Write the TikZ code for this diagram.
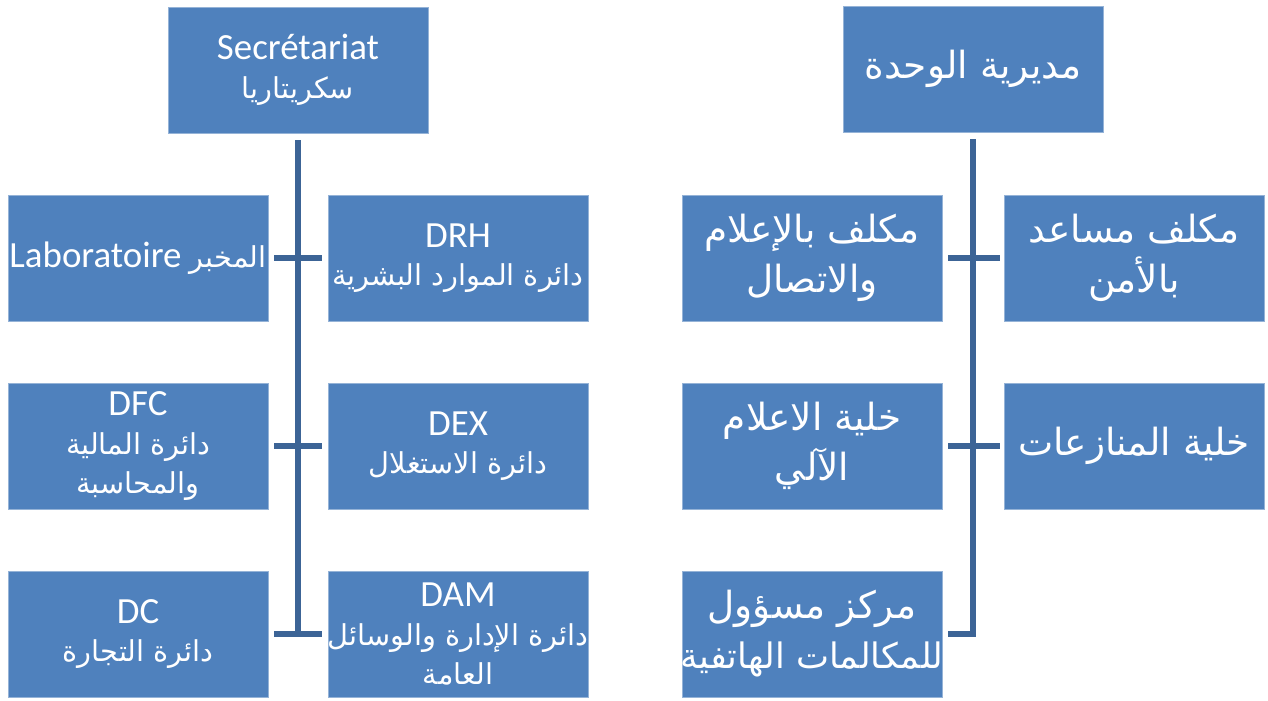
\documentclass[tikz,border=0pt]{standalone}
\usepackage{fontspec}
\setmainfont{Carlito}
\newfontfamily\arabicfont[Script=Arabic,Scale=0.78]{DejaVu Sans}
\TeXXeTstate=1
\newcommand{\artxt}[1]{{\arabicfont\beginR #1\endR}}
\definecolor{boxblue}{HTML}{4F81BD}
\definecolor{lineblue}{HTML}{3C6496}

\begin{document}
\begin{tikzpicture}[x=0.02cm,y=-0.02cm,
  unit/.style={fill=boxblue,draw=boxblue!60!white,line width=0.4pt,minimum width=5.2cm,minimum height=2.52cm,text=white,align=center,inner sep=0pt},
  small/.style={font=\fontsize{21}{22}\selectfont},
  big/.style={font=\fontsize{27.3}{28.5}\selectfont},
  trunk/.style={draw=lineblue,line width=0.12cm},
  tick/.style={trunk,shorten <=0.12cm,shorten >=0.12cm}]
\useasboundingbox (0,0) rectangle (1268,700);
% left chart
\node[unit,small] (sec) at (298,70) {Secrétariat\\\artxt{سكريتاريا}};
\node[unit,small] (lab) at (138,258) {Laboratoire \artxt{المخبر}};
\node[unit,small] (drh) at (458,258) {DRH\\\artxt{دائرة الموارد البشرية}};
\node[unit,small] (dfc) at (138,446) {DFC\\\artxt{دائرة المالية}\\\artxt{والمحاسبة}};
\node[unit,small] (dex) at (458,446) {DEX\\\artxt{دائرة الاستغلال}};
\node[unit,small] (dc) at (138,634) {DC\\\artxt{دائرة التجارة}};
\node[unit,small] (dam) at (458,634) {DAM\\\makebox[0pt]{\artxt{دائرة الإدارة والوسائل}}\\\artxt{العامة}};
\draw[trunk,shorten <=0.14cm,shorten >=-0.06cm] (sec.south) -- (sec.south |- dc.east);
\draw[tick] (lab.east) -- (drh.west);
\draw[tick] (dfc.east) -- (dex.west);
\draw[tick] (dc.east) -- (dam.west);
% right chart
\node[unit,big] (dir) at (973,69) {\artxt{مديرية الوحدة}};
\node[unit,big] (info) at (812,258) {\artxt{مكلف بالإعلام}\\\artxt{والاتصال}};
\node[unit,big] (sur) at (1134,258) {\artxt{مكلف مساعد}\\\artxt{بالأمن}};
\node[unit,big] (auto) at (812,446) {\artxt{خلية الاعلام}\\\artxt{الآلي}};
\node[unit,big] (disp) at (1134,446) {\artxt{خلية المنازعات}};
\node[unit,big] (call) at (812,634) {\artxt{مركز مسؤول}\\\makebox[0pt]{\fontsize{25.6}{28.5}\selectfont\artxt{للمكالمات الهاتفية}}};
\draw[trunk,shorten <=0.14cm,shorten >=0.12cm] (dir.south) -- (dir.south |- call.east) -- (call.east);
\draw[tick,shorten >=0.08cm] (info.east) -- (sur.west);
\draw[tick,shorten >=0.08cm] (auto.east) -- (disp.west);
\end{tikzpicture}
\end{document}
